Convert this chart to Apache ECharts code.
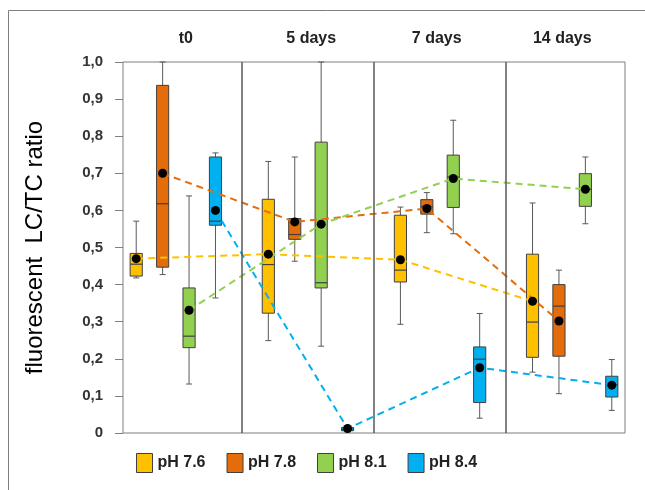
<!DOCTYPE html>
<html>
<head>
<meta charset="utf-8">
<script src="https://cdn.jsdelivr.net/npm/echarts@6/dist/echarts.min.js"></script>
<style>
  html, body { margin: 0; padding: 0; background: #fff; }
  #chart { width: 645px; height: 490px; }
</style>
</head>
<body>
<div id="chart"></div>
<script>
  // groups on top, 5 slots per group (4 boxes + gap)
  const groups = ['t0', '5 days', '7 days', '14 days'];
  const phNames = ['pH 7.6', 'pH 7.8', 'pH 8.1', 'pH 8.4'];
  const phColors = ['#FFC000', '#E46C0A', '#92D050', '#00B0F0'];

  // [min, q1, median, q3, max] per group
  const box76 = [[0.418, 0.423, 0.455, 0.484, 0.571], [0.249, 0.323, 0.454, 0.630, 0.732], [0.293, 0.407, 0.439, 0.587, 0.609], [0.164, 0.204, 0.299, 0.482, 0.620]];
  const box78 = [[0.427, 0.447, 0.618, 0.937, 1.0], [0.463, 0.522, 0.535, 0.578, 0.744], [0.540, 0.590, 0.610, 0.629, 0.648], [0.106, 0.207, 0.342, 0.400, 0.439]];
  const box81 = [[0.132, 0.230, 0.261, 0.391, 0.639], [0.234, 0.391, 0.405, 0.784, 1.0], [0.537, 0.608, 0.690, 0.749, 0.843], [0.564, 0.611, 0.657, 0.699, 0.744]];
  const box84 = [[0.364, 0.560, 0.571, 0.744, 0.755], [0.003, 0.006, 0.010, 0.015, 0.018], [0.040, 0.082, 0.199, 0.232, 0.322], [0.061, 0.097, 0.130, 0.153, 0.198]];

  // means per group
  const mean76 = [0.470, 0.482, 0.467, 0.355];
  const mean78 = [0.700, 0.569, 0.605, 0.302];
  const mean81 = [0.331, 0.563, 0.686, 0.657];
  const mean84 = [0.600, 0.012, 0.176, 0.129];

  const yTicks = [0, 0.1, 0.2, 0.3, 0.4, 0.5, 0.6, 0.7, 0.8, 0.9, 1.0];

  const boxes = [box76, box78, box81, box84];
  const means = [mean76, mean78, mean81, mean84];
  const slotCount = groups.length * 5 - 1;
  const slots = [];
  for (let i = 0; i < slotCount; i++) slots.push('s' + i);

  const font = "'Liberation Sans', Arial, sans-serif";
  const lineColor = '#404040';

  function renderBox(params, api) {
    const x = api.value(0);
    const pMin = api.coord([x, api.value(1)]);
    const pQ1 = api.coord([x, api.value(2)]);
    const pMed = api.coord([x, api.value(3)]);
    const pQ3 = api.coord([x, api.value(4)]);
    const pMax = api.coord([x, api.value(5)]);
    const w = api.size([1, 0])[0] * 0.46;
    const cap = 3;
    const cx = pMed[0];
    const lineStyle = { stroke: '#595959', lineWidth: 1 };
    return {
      type: 'group',
      children: [
        { type: 'line', shape: { x1: cx, y1: pMin[1], x2: cx, y2: pMax[1] }, style: lineStyle },
        { type: 'line', shape: { x1: cx - cap, y1: pMin[1], x2: cx + cap, y2: pMin[1] }, style: lineStyle },
        { type: 'line', shape: { x1: cx - cap, y1: pMax[1], x2: cx + cap, y2: pMax[1] }, style: lineStyle },
        {
          type: 'rect',
          shape: { x: cx - w / 2, y: pQ3[1], width: w, height: pQ1[1] - pQ3[1] },
          style: { fill: api.visual('color'), stroke: lineColor, lineWidth: 1 }
        },
        { type: 'line', shape: { x1: cx - w / 2, y1: pMed[1], x2: cx + w / 2, y2: pMed[1] }, style: { stroke: lineColor, lineWidth: 1.2 } }
      ]
    };
  }

  const series = [];
  phNames.forEach((name, k) => {
    series.push({
      name: name,
      type: 'custom',
      renderItem: renderBox,
      itemStyle: { color: phColors[k] },
      encode: { x: 0, y: [1, 2, 3, 4, 5] },
      data: boxes[k].map((b, g) => [g * 5 + k].concat(b)),
      z: 2
    });
  });
  phNames.forEach((name, k) => {
    series.push({
      name: name,
      type: 'line',
      data: means[k].map((m, g) => [g * 5 + k, m]),
      symbol: 'circle',
      symbolSize: 9,
      itemStyle: { color: '#000' },
      lineStyle: { color: phColors[k], type: [7, 5], width: 2 },
      z: 4
    });
  });
  // separators between groups
  series.push({
    type: 'line',
    data: [],
    silent: true,
    markLine: {
      symbol: 'none',
      label: { show: false },
      lineStyle: { color: '#595959', type: 'solid', width: 1.5 },
      data: [1, 2, 3].map((g) => ({ xAxis: g * 5 - 1 }))
    }
  });

  const chart = echarts.init(document.getElementById('chart'));
  chart.setOption({
    animation: false,
    graphic: [{
      type: 'rect',
      shape: { x: 8.5, y: 10.5, width: 700, height: 600 },
      style: { fill: 'none', stroke: '#7f7f7f', lineWidth: 1 },
      silent: true
    }],
    grid: {
      left: 123, right: 20, top: 62, bottom: 57,
      show: true, borderColor: '#7f7f7f', borderWidth: 1
    },
    legend: {
      bottom: 12,
      left: 131,
      icon: 'rect',
      itemWidth: 16,
      itemHeight: 19,
      itemGap: 21,
      textStyle: { fontFamily: font, fontSize: 16, fontWeight: 'bold', color: '#222' },
      data: phNames.map((n, k) => ({
        name: n,
        itemStyle: { color: phColors[k], borderColor: lineColor, borderWidth: 1 }
      }))
    },
    xAxis: [{
      type: 'category',
      data: slots,
      axisLine: { show: false },
      axisTick: { show: false },
      axisLabel: { show: false }
    }, {
      type: 'category',
      position: 'top',
      data: groups,
      axisLine: { show: false },
      axisTick: { show: false },
      axisLabel: { fontFamily: font, fontSize: 16, fontWeight: 'bold', color: '#222', margin: 15 }
    }],
    yAxis: {
      type: 'value',
      min: 0,
      max: 1,
      interval: 0.1,
      name: 'fluorescent  LC/TC ratio',
      nameLocation: 'middle',
      nameGap: 76,
      nameTextStyle: { fontFamily: font, fontSize: 24, color: '#000' },
      axisLine: { show: false },
      axisTick: { show: true, inside: false, length: 8, lineStyle: { color: '#7f7f7f' } },
      splitLine: { show: false },
      axisLabel: {
        margin: 20,
        fontFamily: font,
        fontSize: 15,
        fontWeight: 'bold',
        color: '#333',
        formatter: (v) => {
          const t = yTicks.find((y) => Math.abs(y - v) < 1e-6);
          return t === 0 ? '0' : t.toFixed(1).replace('.', ',');
        }
      }
    },
    series: series
  });
</script>
</body>
</html>
